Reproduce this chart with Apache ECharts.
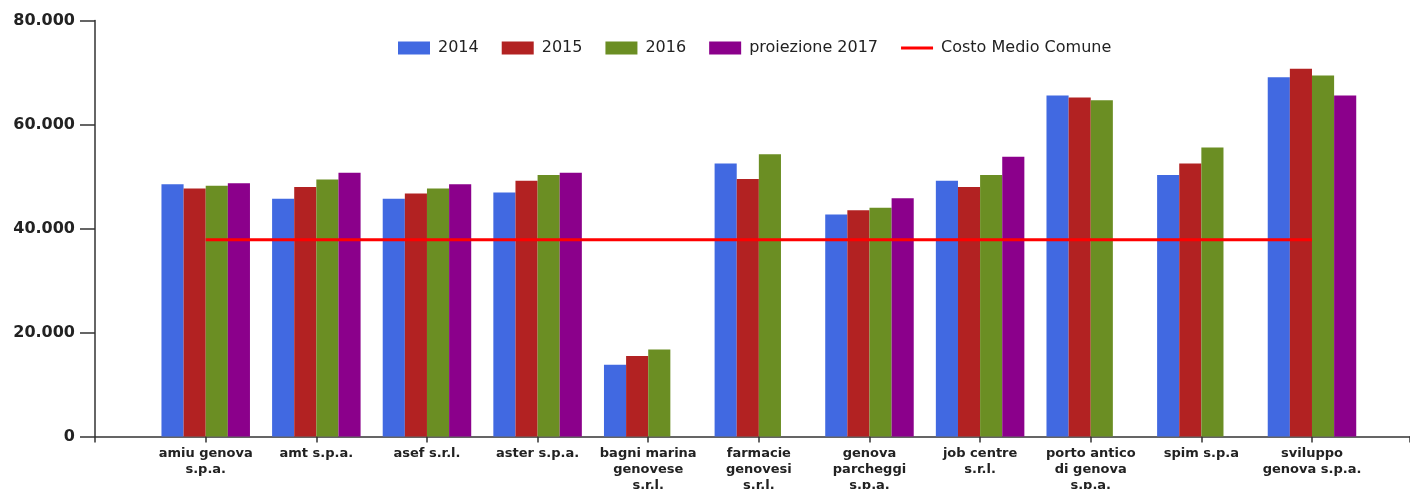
<!DOCTYPE html>
<html>
<head>
<meta charset="utf-8">
<script src="https://cdn.jsdelivr.net/npm/echarts@6/dist/echarts.min.js"></script>
<style>
html,body{margin:0;padding:0;background:#fff;}
#chart{width:1410px;height:489px;}
</style>
</head>
<body>
<div id="chart"></div>
<script>
const categories = [
  "amiu genova\ns.p.a.", "amt s.p.a.", "asef s.r.l.", "aster s.p.a.",
  "bagni marina\ngenovese\ns.r.l.", "farmacie\ngenovesi\ns.r.l.",
  "genova\nparcheggi\ns.p.a.", "job centre\ns.r.l.",
  "porto antico\ndi genova\ns.p.a.", "spim s.p.a", "sviluppo\ngenova s.p.a."
];
const seriesNames = ["2014", "2015", "2016", "proiezione 2017", "Costo Medio Comune"];
const v2014 = [48500, 45700, 45700, 46900, 13800, 52500, 42700, 49200, 65600, 50300, 69100];
const v2015 = [47700, 48000, 46750, 49200, 15500, 49500, 43500, 48000, 65200, 52500, 70700];
const v2016 = [48200, 49400, 47700, 50300, 16750, 54300, 44000, 50300, 64650, 55600, 69400];
const v2017 = [48700, 50700, 48500, 50700, null, null, 45800, 53800, null, null, 65600];
const costoMedio = [37850, 37850, 37850, 37850, 37850, 37850, 37850, 37850, 37850, 37850, 37850];
const yTicks = [0, 20000, 40000, 60000, 80000];

const colors = ["#4169E1", "#B22222", "#6B8E23", "#8B008B", "#FF0000"];
const axisColor = "#333";
const textColor = "#222";

const chart = echarts.init(document.getElementById('chart'), null, {renderer: 'canvas'});
const barData = [v2014, v2015, v2016, v2017];
const series = barData.map((d, i) => ({
  name: seriesNames[i],
  type: 'bar',
  xAxisIndex: 1,
  yAxisIndex: 1,
  data: d.map(v => v === null ? '-' : v),
  barGap: '0%',
  barCategoryGap: '20%',
  itemStyle: {color: colors[i]},
  emphasis: {disabled: true},
  animation: false
}));
series.push({
  name: seriesNames[4],
  type: 'line',
  xAxisIndex: 1,
  yAxisIndex: 1,
  data: costoMedio,
  symbol: 'none',
  lineStyle: {color: colors[4], width: 3},
  itemStyle: {color: colors[4]},
  z: 5,
  animation: false
});

const legendData = seriesNames.map((n, i) => i === 4
  ? {name: n, icon: 'path://M0,0 L30,0 L30,3 L0,3 Z'}
  : {name: n, icon: 'rect'});

chart.setOption({
  animation: false,
  textStyle: {fontFamily: 'DejaVu Sans'},
  legend: {
    left: 398,
    top: 40,
    padding: 0,
    itemWidth: 32,
    itemHeight: 13,
    itemGap: 23,
    symbolKeepAspect: true,
    data: legendData,
    textStyle: {fontSize: 16, color: textColor, fontFamily: 'DejaVu Sans', padding: [0, 0, 0, 3]}
  },
  grid: [
    {left: 95, right: 0, top: 20.5, bottom: 52.5, containLabel: false, outerBoundsMode: 'none'},
    {left: 150.4, right: 42.7, top: 20.5, bottom: 52.5, containLabel: false, outerBoundsMode: 'none'}
  ],
  xAxis: [
    {
      type: 'value', gridIndex: 0, min: 0, max: 1, interval: 1,
      axisLine: {show: true, lineStyle: {color: axisColor, width: 1.5}},
      axisTick: {show: true, length: 6, lineStyle: {color: axisColor, width: 1.5}},
      axisLabel: {show: false},
      splitLine: {show: false}
    },
    {
      type: 'category', gridIndex: 1, data: categories,
      axisLine: {show: false},
      axisTick: {show: true, alignWithLabel: true, length: 6, lineStyle: {color: axisColor, width: 1.5}},
      axisLabel: {
        interval: 0, margin: 9, color: textColor, fontSize: 13, fontWeight: 'bold',
        lineHeight: 16, fontFamily: 'DejaVu Sans', align: 'center'
      },
      splitLine: {show: false}
    }
  ],
  yAxis: [
    {
      type: 'value', gridIndex: 0, min: yTicks[0], max: yTicks[yTicks.length - 1], interval: yTicks[1] - yTicks[0],
      axisLine: {show: true, lineStyle: {color: axisColor, width: 1.5}},
      axisTick: {show: true, length: 15, lineStyle: {color: axisColor, width: 1.5}},
      axisLabel: {
        margin: 20, color: textColor, fontSize: 16, fontWeight: 'bold', fontFamily: 'DejaVu Sans',
        formatter: v => v === 0 ? '0' : (v / 1000).toFixed(0) + '.000'
      },
      splitLine: {show: false}
    },
    {
      type: 'value', gridIndex: 1, min: yTicks[0], max: yTicks[yTicks.length - 1], interval: yTicks[1] - yTicks[0],
      show: false, splitLine: {show: false}
    }
  ],
  series: series
});
</script>
</body>
</html>
